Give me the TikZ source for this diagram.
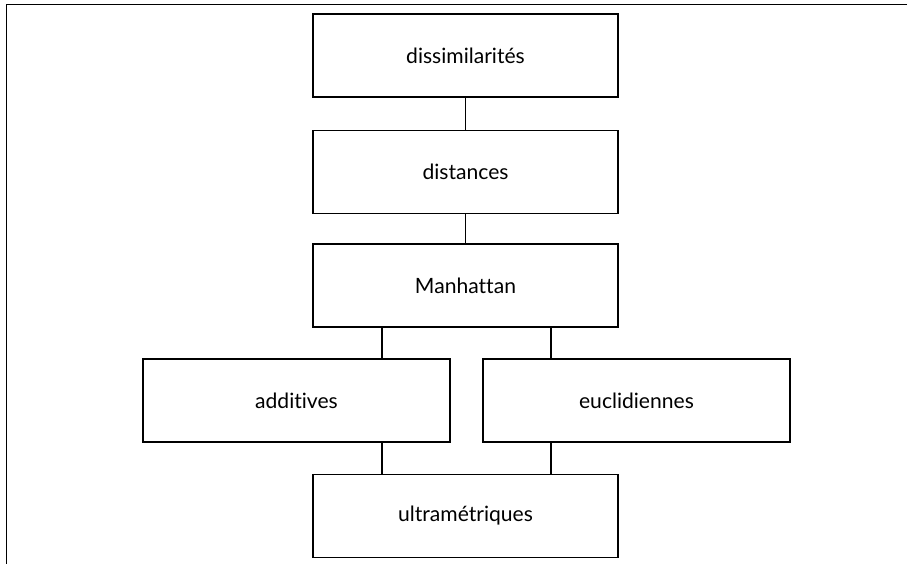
\documentclass[tikz,border=0pt]{standalone}
\usepackage{fontspec}
\setmainfont[Ligatures={NoCommon,NoDiscretionary,NoContextual}]{Lato}
\tikzset{
  classe/.style={draw, line width=1.4pt, minimum width=7.625cm, minimum height=2.075cm,
    inner sep=0pt, font=\fontsize{15}{18}\selectfont},
  lien/.style={line width=1.4pt}
}
\begin{document}
\begin{tikzpicture}[x=0.025cm, y=-0.025cm]
  \useasboundingbox (0,0) rectangle (920,564);
  % cadre
  \draw[line width=1.4pt] (907,4.5) -- (6.5,4.5) -- (6.5,564);
  \draw
    (465.5,55.5) node[classe] (dis){dissimilarités}
    (465.5,172) node[classe] (dist){distances}
    (465.5,285.5) node[classe] (man){Manhattan}
    (296.5,400.5) node[classe, minimum width=7.675cm] (add){additives}
    (636.5,400.5) node[classe, minimum width=7.675cm] (euc){euclidiennes}
    (465.5,516) node[classe] (ult){ultramétriques};
  \coordinate (g) at (382,0);
  \coordinate (d) at (551,0);
  \begin{scope}[lien]
    \draw (dis) to (dist);
    \draw (dist) to (man);
    \draw (man.south -| g) to (add.north -| g);
    \draw (man.south -| d) to (euc.north -| d);
    \draw (add.south -| g) to (ult.north -| g);
    \draw (euc.south -| d) to (ult.north -| d);
  \end{scope}
\end{tikzpicture}
\end{document}
